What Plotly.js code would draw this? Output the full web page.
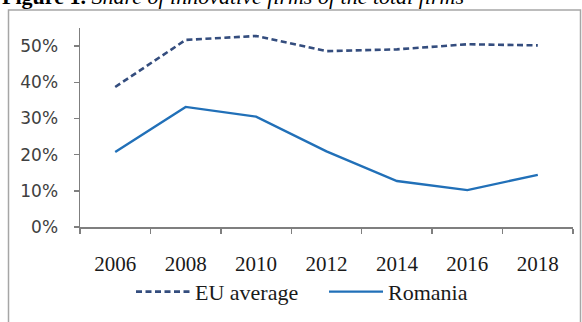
<!DOCTYPE html>
<html>
<head>
<meta charset="utf-8">
<script src="https://cdn.plot.ly/plotly-3.0.1.min.js"></script>
<style>
html,body{margin:0;padding:0;background:#fff;}
#chart{width:582px;height:322px;}
</style>
</head>
<body>
<div id="chart"></div>
<script>
const years = ["2006","2008","2010","2012","2014","2016","2018"];
const euAverage = [0.387, 0.517, 0.528, 0.486, 0.491, 0.505, 0.502];
const romania = [0.207, 0.332, 0.305, 0.209, 0.127, 0.102, 0.144];
const seriesNames = ["EU average", "Romania"];
const yTickVals = [0, 0.1, 0.2, 0.3, 0.4, 0.5];
const yTickText = ["0%", "10%", "20%", "30%", "40%", "50%"];
const titleText = "<b>Figure 1.</b> <i>Share of innovative firms of the total firms</i>";

const serif = "Liberation Serif";

const traces = [
  {x: years, y: euAverage, name: seriesNames[0], type: "scatter", mode: "lines",
   line: {color: "#344d7e", width: 2.6, dash: "6px,3.5px"}},
  {x: years, y: romania, name: seriesNames[1], type: "scatter", mode: "lines",
   line: {color: "#2170b8", width: 2.4}}
];

const layout = {
  width: 582, height: 322,
  font: {family: serif, size: 21, color: "#1a1a1a"},
  margin: {l: 80, r: 9, t: 28, b: 89, pad: 0},
  paper_bgcolor: "#ffffff", plot_bgcolor: "#ffffff",
  showlegend: true,
  legend: {orientation: "h", x: (131 - 80) / 493, xanchor: "left", y: -0.326, yanchor: "middle",
    font: {family: serif, size: 22, color: "#1a1a1a"}, traceorder: "normal",
    itemwidth: 54, entrywidth: 124, entrywidthmode: "pixels", bgcolor: "rgba(0,0,0,0)"},
  xaxis: {type: "category", range: [-0.5, 6.5], showgrid: false, zeroline: false,
    showline: true, linecolor: "#7f7f7f", linewidth: 1.5,
    ticks: "outside", tickson: "boundaries", ticklen: 5, tickcolor: "#7f7f7f", tickwidth: 1.5,
    tickfont: {family: serif, size: 21, color: "#1a1a1a"}, ticklabelstandoff: 17, fixedrange: true},
  yaxis: {range: [0, 0.55], showgrid: false, zeroline: false,
    showline: true, linecolor: "#7f7f7f", linewidth: 1.5,
    tickvals: yTickVals, ticktext: yTickText,
    ticks: "outside", ticklen: 5, tickcolor: "#7f7f7f", tickwidth: 1.5,
    tickfont: {family: "DejaVu Sans", size: 17, color: "#404040"},
    ticklabelstandoff: 12, fixedrange: true},
  shapes: [
    {type: "rect", xref: "paper", yref: "paper",
     x0: (8.5 - 80) / 493, x1: (580.5 - 80) / 493,
     y0: -0.6, y1: (233 - 9.5) / 205,
     line: {color: "#a6a6a6", width: 1.5}, fillcolor: "rgba(0,0,0,0)", layer: "below"}
  ],
  annotations: [
    {text: titleText, xref: "paper", yref: "paper", x: -80 / 493, xanchor: "left",
     y: (233 - 11) / 205, yanchor: "bottom", showarrow: false,
     font: {family: serif, size: 22, color: "#000"}}
  ]
};

Plotly.newPlot("chart", traces, layout, {displayModeBar: false, staticPlot: true});
</script>
</body>
</html>
